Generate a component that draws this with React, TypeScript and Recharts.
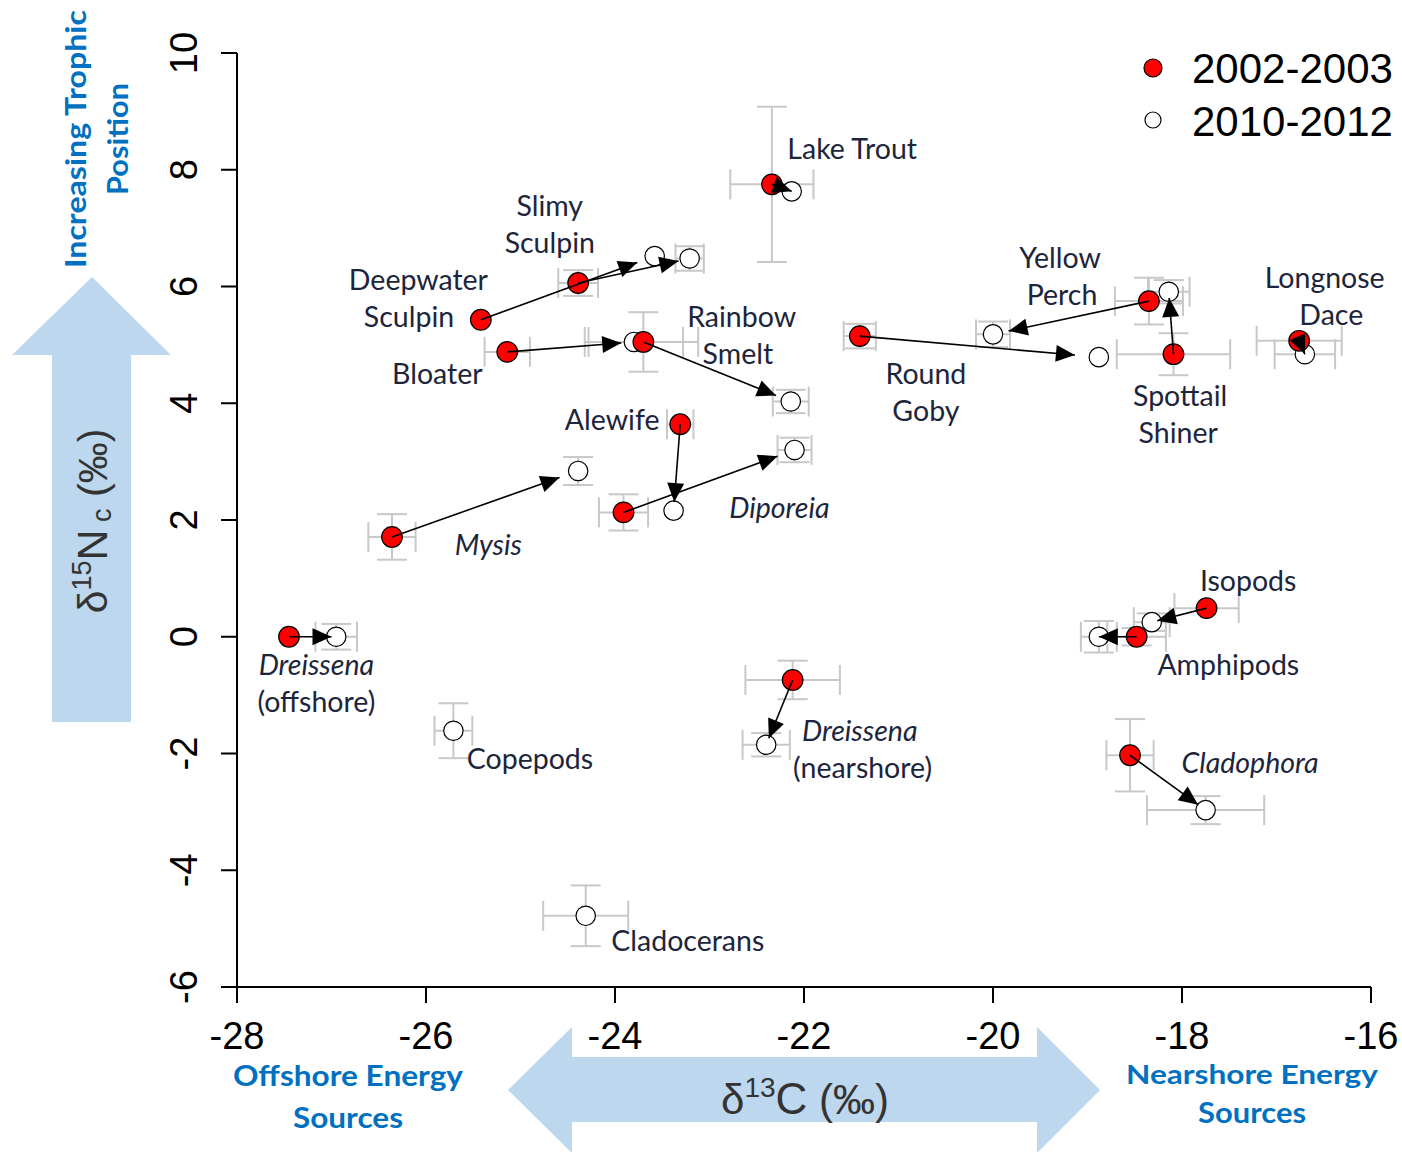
import React from 'react';
import { ScatterChart, Scatter, XAxis, YAxis, ErrorBar, Legend } from 'recharts';

// ---- data (δ13C, δ15Nc) ----
const species = [
  'Dreissena (offshore)', 'Mysis', 'Deepwater Sculpin', 'Slimy Sculpin', 'Bloater', 'Rainbow Smelt',
  'Alewife', 'Diporeia', 'Lake Trout', 'Dreissena (nearshore)', 'Round Goby', 'Yellow Perch',
  'Spottail Shiner', 'Longnose Dace', 'Isopods', 'Amphipods', 'Cladophora',
];
const c13Early = [-27.45, -26.36, -25.42, -24.39, -25.14, -23.70, -23.31, -23.91, -22.34, -22.12, -21.41, -18.35, -18.09, -16.76, -17.74, -18.48, -18.55];
const n15Early = [0.0, 1.71, 5.43, 6.06, 4.88, 5.05, 3.64, 2.13, 7.75, -0.74, 5.15, 5.75, 4.84, 5.07, 0.49, 0.0, -2.03];
const c13SdEarly = [0, 0.25, 0, 0.21, 0.24, 0.58, 0.14, 0.26, 0.44, 0.5, 0.17, 0.36, 0.6, 0.45, 0.34, 0.31, 0.25];
const n15SdEarly = [0, 0.39, 0, 0.22, 0, 0.51, 0, 0.31, 1.33, 0.33, 0.21, 0.4, 0.36, 0, 0, 0.15, 0.62];

const speciesLate = [...species, 'Copepods', 'Cladocerans'];
const c13Late = [-26.95, -24.39, -23.58, -23.21, -23.8, -22.14, -23.38, -22.1, -22.13, -22.4, -18.88, -20.0, -18.14, -16.7, -18.32, -18.88, -17.75, -25.71, -24.31];
const n15Late = [0.0, 2.84, 6.52, 6.48, 5.05, 4.03, 2.16, 3.2, 7.63, -1.85, 4.79, 5.18, 5.91, 4.84, 0.25, 0.0, -2.97, -1.61, -4.78];
const c13SdLate = [0.22, 0, 0, 0.15, 0.52, 0.19, 0, 0.18, 0, 0.25, 0, 0.18, 0.22, 0.32, 0.19, 0.19, 0.62, 0.2, 0.45];
const n15SdLate = [0.22, 0.24, 0, 0.21, 0, 0.2, 0, 0.21, 0, 0.2, 0, 0.22, 0.2, 0, 0.15, 0.27, 0.24, 0.47, 0.52];

const xTicks = [-28, -26, -24, -22, -20, -18, -16];
const yTicks = [-6, -4, -2, 0, 2, 4, 6, 8, 10];

// ---- annotation labels (data units) ----
const labelTexts = ['Lake Trout', 'Slimy', 'Sculpin', 'Deepwater', 'Sculpin', 'Rainbow', 'Smelt', 'Bloater', 'Alewife',
  'Mysis', 'Diporeia', 'Dreissena', '(offshore)', 'Copepods', 'Cladocerans', 'Dreissena', '(nearshore)',
  'Yellow', 'Perch', 'Round', 'Goby', 'Spottail', 'Shiner', 'Longnose', 'Dace', 'Isopods', 'Amphipods', 'Cladophora'];
const labelX = [-21.49, -24.69, -24.69, -26.08, -26.18, -22.66, -22.70, -25.88, -24.03,
  -25.34, -22.26, -27.16, -27.16, -24.90, -23.23, -21.41, -21.38,
  -19.29, -19.27, -20.71, -20.71, -18.02, -18.04, -16.49, -16.42, -17.30, -17.51, -17.28];
const labelY = [8.356, 7.379, 6.745, 6.111, 5.478, 5.478, 4.844, 4.501, 3.713,
  1.572, 2.206, -0.484, -1.118, -2.094, -5.212, -1.615, -2.248,
  6.488, 5.854, 4.501, 3.867, 4.124, 3.49, 6.146, 5.512, 0.955, -0.484, -2.163];
const labelItalic = [false, false, false, false, false, false, false, false, false,
  true, true, true, false, false, false, true, false,
  false, false, false, false, false, false, false, false, false, false, true];

const earlyData = species.map((s, i) => ({ name: s, x: c13Early[i], y: n15Early[i], xe: c13SdEarly[i], ye: n15SdEarly[i] }));
const lateData = speciesLate.map((s, i) => ({ name: s, x: c13Late[i], y: n15Late[i], xe: c13SdLate[i], ye: n15SdLate[i] }));
const labelData = labelTexts.map((t, i) => ({ text: t, x: labelX[i], y: labelY[i], italic: labelItalic[i] }));
const arrowData = species.map((s, i) => [
  { x: c13Early[i], y: n15Early[i] },
  { x: c13Late[i], y: n15Late[i] },
]);

const ERR = '#c8c8c8';
const LABEL_FONT = "Lato, 'Open Sans', sans-serif";
const AXIS_FONT = "'Liberation Sans', Arial, sans-serif";
const BLUE = '#0070c0';
const ARROW_FILL = '#bdd7ee';

const RedDot = (p: any) => (
  <circle cx={p.cx} cy={p.cy} r={10.3} fill="#ff0000" stroke="#000" strokeWidth={1.2} />
);
const OpenDot = (p: any) => (
  <circle cx={p.cx} cy={p.cy} r={9.7} fill="#fff" stroke="#000" strokeWidth={1.2} />
);
const NoDot = () => <g />;

const LabelShape = (p: any) => (
  <text
    x={p.cx}
    y={p.cy}
    dy="0.36em"
    textAnchor="middle"
    fontFamily={LABEL_FONT}
    fontSize={28.5}
    fontStyle={p.payload.italic ? 'italic' : 'normal'}
    fill="#1c253b"
  >
    {p.payload.text}
  </text>
);

// arrow from the 2002-2003 point to 90% of the way to the 2010-2012 point
const ArrowLine = (p: any) => {
  const pts = p.points || [];
  if (pts.length < 2) return <g />;
  const x1 = pts[0].x, y1 = pts[0].y, x2 = pts[1].x, y2 = pts[1].y;
  if ([x1, y1, x2, y2].some((v) => typeof v !== 'number' || isNaN(v))) return <g />;
  const full = Math.hypot(x2 - x1, y2 - y1) || 1;
  const frac = full < 40 ? 1.0 : 0.9;
  const tx = x1 + frac * (x2 - x1);
  const ty = y1 + frac * (y2 - y1);
  const ux = (x2 - x1) / full;
  const uy = (y2 - y1) / full;
  const hl = 19;
  const hw = 8.5;
  const bx = tx - ux * hl;
  const by = ty - uy * hl;
  const poly = `${tx},${ty} ${bx - uy * hw},${by + ux * hw} ${bx + uy * hw},${by - ux * hw}`;
  return (
    <g>
      <line x1={x1} y1={y1} x2={tx} y2={ty} stroke="#000" strokeWidth={1.6} />
      <polygon points={poly} fill="#000" />
    </g>
  );
};

const XTick = (p: any) => (
  <text x={p.x} y={p.y + 44} textAnchor="middle" fontFamily={AXIS_FONT} fontSize={38} fill="#000">
    {p.payload.value}
  </text>
);
const YTick = (p: any) => {
  const bx = p.x - 22;
  return (
    <text x={bx} y={p.y} textAnchor="middle" transform={`rotate(-90, ${bx}, ${p.y})`} fontFamily={AXIS_FONT} fontSize={38} fill="#000">
      {p.payload.value}
    </text>
  );
};

const LegendContent = () => (
  <svg width={272} height={110}>
    <circle cx={23} cy={28} r={9} fill="#ff0000" stroke="#000" strokeWidth={1.2} />
    <text x={62} y={43} fontFamily={AXIS_FONT} fontSize={42} fill="#000">2002-2003</text>
    <circle cx={23} cy={80} r={8} fill="#fff" stroke="#000" strokeWidth={1.2} />
    <text x={62} y={96} fontFamily={AXIS_FONT} fontSize={42} fill="#000">2010-2012</text>
  </svg>
);

const Decorations = () => (
  <svg width={1402} height={1152} style={{ position: 'absolute', left: 0, top: 0 }}>
    {/* vertical trophic arrow */}
    <polygon points="92,277 171,355 131,355 131,722 52,722 52,355 12,355" fill={ARROW_FILL} />
    {/* horizontal double arrow */}
    <polygon points="508,1090 572,1027 572,1057 1037,1057 1037,1027 1100,1090 1037,1153 1037,1122 572,1122 572,1153" fill={ARROW_FILL} />
    <text transform="translate(86,139) rotate(-90)" textAnchor="middle" fontFamily={LABEL_FONT} fontWeight="bold" fontSize={28} fill={BLUE} textLength={258} lengthAdjust="spacingAndGlyphs">Increasing Trophic</text>
    <text transform="translate(128,139) rotate(-90)" textAnchor="middle" fontFamily={LABEL_FONT} fontWeight="bold" fontSize={28} fill={BLUE} textLength={112} lengthAdjust="spacingAndGlyphs">Position</text>
    <text x={348} y={1086} textAnchor="middle" fontFamily={LABEL_FONT} fontWeight="bold" fontSize={29} fill={BLUE} textLength={230} lengthAdjust="spacingAndGlyphs">Offshore Energy</text>
    <text x={348} y={1128} textAnchor="middle" fontFamily={LABEL_FONT} fontWeight="bold" fontSize={29} fill={BLUE} textLength={110} lengthAdjust="spacingAndGlyphs">Sources</text>
    <text x={1252} y={1084} textAnchor="middle" fontFamily={LABEL_FONT} fontWeight="bold" fontSize={27} fill={BLUE} textLength={252} lengthAdjust="spacingAndGlyphs">Nearshore Energy</text>
    <text x={1252} y={1123} textAnchor="middle" fontFamily={LABEL_FONT} fontWeight="bold" fontSize={28} fill={BLUE} textLength={108} lengthAdjust="spacingAndGlyphs">Sources</text>
    {/* y axis title */}
    <text transform="translate(107,521) rotate(-90)" textAnchor="middle" fontFamily={AXIS_FONT} fill="#333">
      <tspan fontSize={41}>δ</tspan>
      <tspan fontSize={27} dy={-16}>15</tspan>
      <tspan fontSize={43} dy={16}>N</tspan>
      <tspan fontSize={27} dy={4}> c</tspan>
      <tspan fontSize={41} dy={-4}> (‰)</tspan>
    </text>
    {/* x axis title */}
    <text x={805} y={1114} textAnchor="middle" fontFamily={AXIS_FONT} fill="#333">
      <tspan fontSize={42}>δ</tspan>
      <tspan fontSize={28} dy={-17}>13</tspan>
      <tspan fontSize={44} dy={17}>C</tspan>
      <tspan fontSize={42}> (‰)</tspan>
    </text>
  </svg>
);

export default function App() {
  return (
    <div style={{ position: 'absolute', left: 0, top: 0, width: 1402, height: 1152, background: '#fff' }}>
      <Decorations />
      <div style={{ position: 'absolute', left: 0, top: 0 }}>
        <ScatterChart width={1402} height={1152} margin={{ top: 53, right: 31, bottom: 105, left: 157 }}>
          <XAxis
            type="number"
            dataKey="x"
            domain={[-28, -16]}
            ticks={xTicks}
            height={60}
            tickSize={16}
            tick={<XTick />}
            axisLine={{ stroke: '#000', strokeWidth: 2 }}
            tickLine={{ stroke: '#000', strokeWidth: 2 }}
          />
          <YAxis
            type="number"
            dataKey="y"
            domain={[-6, 10]}
            ticks={yTicks}
            width={80}
            tickSize={16}
            tick={<YTick />}
            axisLine={{ stroke: '#000', strokeWidth: 2 }}
            tickLine={{ stroke: '#000', strokeWidth: 2 }}
          />
          <Scatter data={earlyData} shape={NoDot} isAnimationActive={false} legendType="none">
            <ErrorBar dataKey="xe" direction="x" width={15} stroke={ERR} strokeWidth={2} isAnimationActive={false} />
            <ErrorBar dataKey="ye" direction="y" width={15} stroke={ERR} strokeWidth={2} isAnimationActive={false} />
          </Scatter>
          <Scatter data={lateData} shape={NoDot} isAnimationActive={false} legendType="none">
            <ErrorBar dataKey="xe" direction="x" width={15} stroke={ERR} strokeWidth={2} isAnimationActive={false} />
            <ErrorBar dataKey="ye" direction="y" width={15} stroke={ERR} strokeWidth={2} isAnimationActive={false} />
          </Scatter>
          <Scatter name="2010-2012" data={lateData} shape={OpenDot} isAnimationActive={false} />
          <Scatter name="2002-2003" data={earlyData} shape={RedDot} isAnimationActive={false} />
          {arrowData.map((d, i) => (
            <Scatter
              key={species[i]}
              data={d}
              shape={NoDot}
              line={ArrowLine}
              lineType="joint"
              isAnimationActive={false}
              legendType="none"
            />
          ))}
          <Scatter data={labelData} shape={LabelShape} isAnimationActive={false} legendType="none" />
          <Legend
            layout="vertical"
            align="center"
            verticalAlign="middle"
            content={<LegendContent />}
            wrapperStyle={{ position: 'absolute', left: 1130, top: 40, width: 272, height: 110 }}
          />
        </ScatterChart>
      </div>
    </div>
  );
}
